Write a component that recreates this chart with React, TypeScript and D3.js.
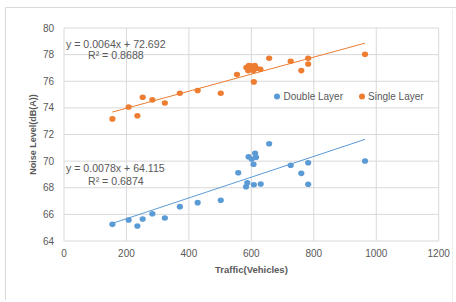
import React from "react";
import * as d3 from "d3";

const singleX = [155, 207, 235, 252, 283, 323, 371, 428, 502, 554, 584, 592, 600, 611, 616, 629, 590, 606, 598, 657, 608, 726, 760, 782, 782, 964];
const singleY = [73.17, 74.07, 73.41, 74.8, 74.6, 74.37, 75.1, 75.3, 75.1, 76.5, 77.03, 77.17, 77.15, 77.17, 76.97, 76.9, 76.8, 76.8, 76.97, 77.73, 75.95, 77.5, 76.8, 77.73, 77.3, 78.03];

const doubleX = [155, 207, 235, 252, 283, 323, 371, 428, 502, 558, 587, 583, 657, 591, 612, 615, 601, 607, 608, 630, 726, 760, 782, 782, 964];
const doubleY = [65.25, 65.58, 65.13, 65.65, 66.05, 65.73, 66.58, 66.88, 67.06, 69.13, 68.38, 68.08, 71.3, 70.33, 70.59, 70.29, 70.16, 69.76, 68.23, 68.28, 69.69, 69.08, 69.88, 68.26, 70.01];

const xTicks = [0, 200, 400, 600, 800, 1000, 1200];
const yTicks = [64, 66, 68, 70, 72, 74, 76, 78, 80];

const singleFit = { slope: 0.0064, intercept: 72.692, r2: "0.8688", label: "y = 0.0064x + 72.692" };
const doubleFit = { slope: 0.0078, intercept: 64.115, r2: "0.6874", label: "y = 0.0078x + 64.115" };

const ORANGE = "#ED7D31";
const BLUE = "#5B9BD5";
const GRID = "#D9D9D9";
const TEXT = "#595959";
const FONT = "'Liberation Sans', Arial, sans-serif";

export default function App() {
  const x = d3.scaleLinear().domain([0, 1200]).range([64, 438.7]);
  const y = d3.scaleLinear().domain([64, 80]).range([241, 28]);
  const xMin = 155, xMax = 964;

  const fitLine = (f: { slope: number; intercept: number }) =>
    d3.line<number>().x((v) => x(v)).y((v) => y(f.slope * v + f.intercept))([xMin, xMax]) || "";

  return (
    <svg width={456} height={302} style={{ position: "absolute", left: 0, top: 0, display: "block", background: "#fff" }} fontFamily={FONT}>
      <rect x={0} y={0} width={456} height={302} fill="#fff" />
      {/* chart area border */}
      <line x1={5.5} y1={7.5} x2={456} y2={7.5} stroke={GRID} strokeWidth={1} />
      <line x1={5.5} y1={7.5} x2={5.5} y2={300} stroke={GRID} strokeWidth={1} />
      <line x1={452.5} y1={10} x2={452.5} y2={302} stroke="#EEEEEE" strokeWidth={1} />

      {/* gridlines */}
      {yTicks.map((t) => (
        <line key={"gy" + t} x1={x(0)} x2={x(1200)} y1={y(t)} y2={y(t)} stroke={GRID} strokeWidth={1} />
      ))}
      {xTicks.map((t) => (
        <line key={"gx" + t} x1={x(t)} x2={x(t)} y1={y(80)} y2={y(64)} stroke={GRID} strokeWidth={1} />
      ))}

      {/* tick labels */}
      {yTicks.map((t) => (
        <text key={"ty" + t} x={54} y={y(t) + 3.5} textAnchor="end" fontSize={10} fill={TEXT}>{t}</text>
      ))}
      {xTicks.map((t) => (
        <text key={"tx" + t} x={x(t)} y={257} textAnchor="middle" fontSize={10} fill={TEXT}>{t}</text>
      ))}

      {/* trend lines */}
      <path d={fitLine(singleFit)} stroke={ORANGE} strokeWidth={1} fill="none" />
      <path d={fitLine(doubleFit)} stroke={BLUE} strokeWidth={1} fill="none" />

      {/* points */}
      {doubleX.map((v, i) => (
        <ellipse key={"d" + i} cx={x(v)} cy={y(doubleY[i])} rx={3.1} ry={2.8} fill={BLUE} />
      ))}
      {singleX.map((v, i) => (
        <ellipse key={"s" + i} cx={x(v)} cy={y(singleY[i])} rx={3.1} ry={2.8} fill={ORANGE} />
      ))}

      {/* equations */}
      <text x={66} y={47.5} fontSize={10.6} fill={TEXT}>{singleFit.label}</text>
      <text x={88} y={59} fontSize={10.6} fill={TEXT}>R² = {singleFit.r2}</text>
      <text x={66} y={172} fontSize={10.6} fill={TEXT}>{doubleFit.label}</text>
      <text x={88} y={185} fontSize={10.6} fill={TEXT}>R² = {doubleFit.r2}</text>

      {/* legend */}
      <circle cx={277} cy={96.5} r={3} fill={BLUE} />
      <text x={283.5} y={100} fontSize={10} fill={TEXT}>Double Layer</text>
      <circle cx={362} cy={96.5} r={3} fill={ORANGE} />
      <text x={368} y={100} fontSize={10} fill={TEXT}>Single Layer</text>

      {/* axis titles */}
      <text x={251.4} y={272.5} textAnchor="middle" fontSize={9.5} fontWeight="bold" fill={TEXT}>Traffic(Vehicles)</text>
      <text transform={`translate(36, ${(y(80) + y(64)) / 2}) rotate(-90)`} textAnchor="middle" fontSize={9} fontWeight="bold" fill={TEXT}>Noise Level(dB(A))</text>
    </svg>
  );
}
